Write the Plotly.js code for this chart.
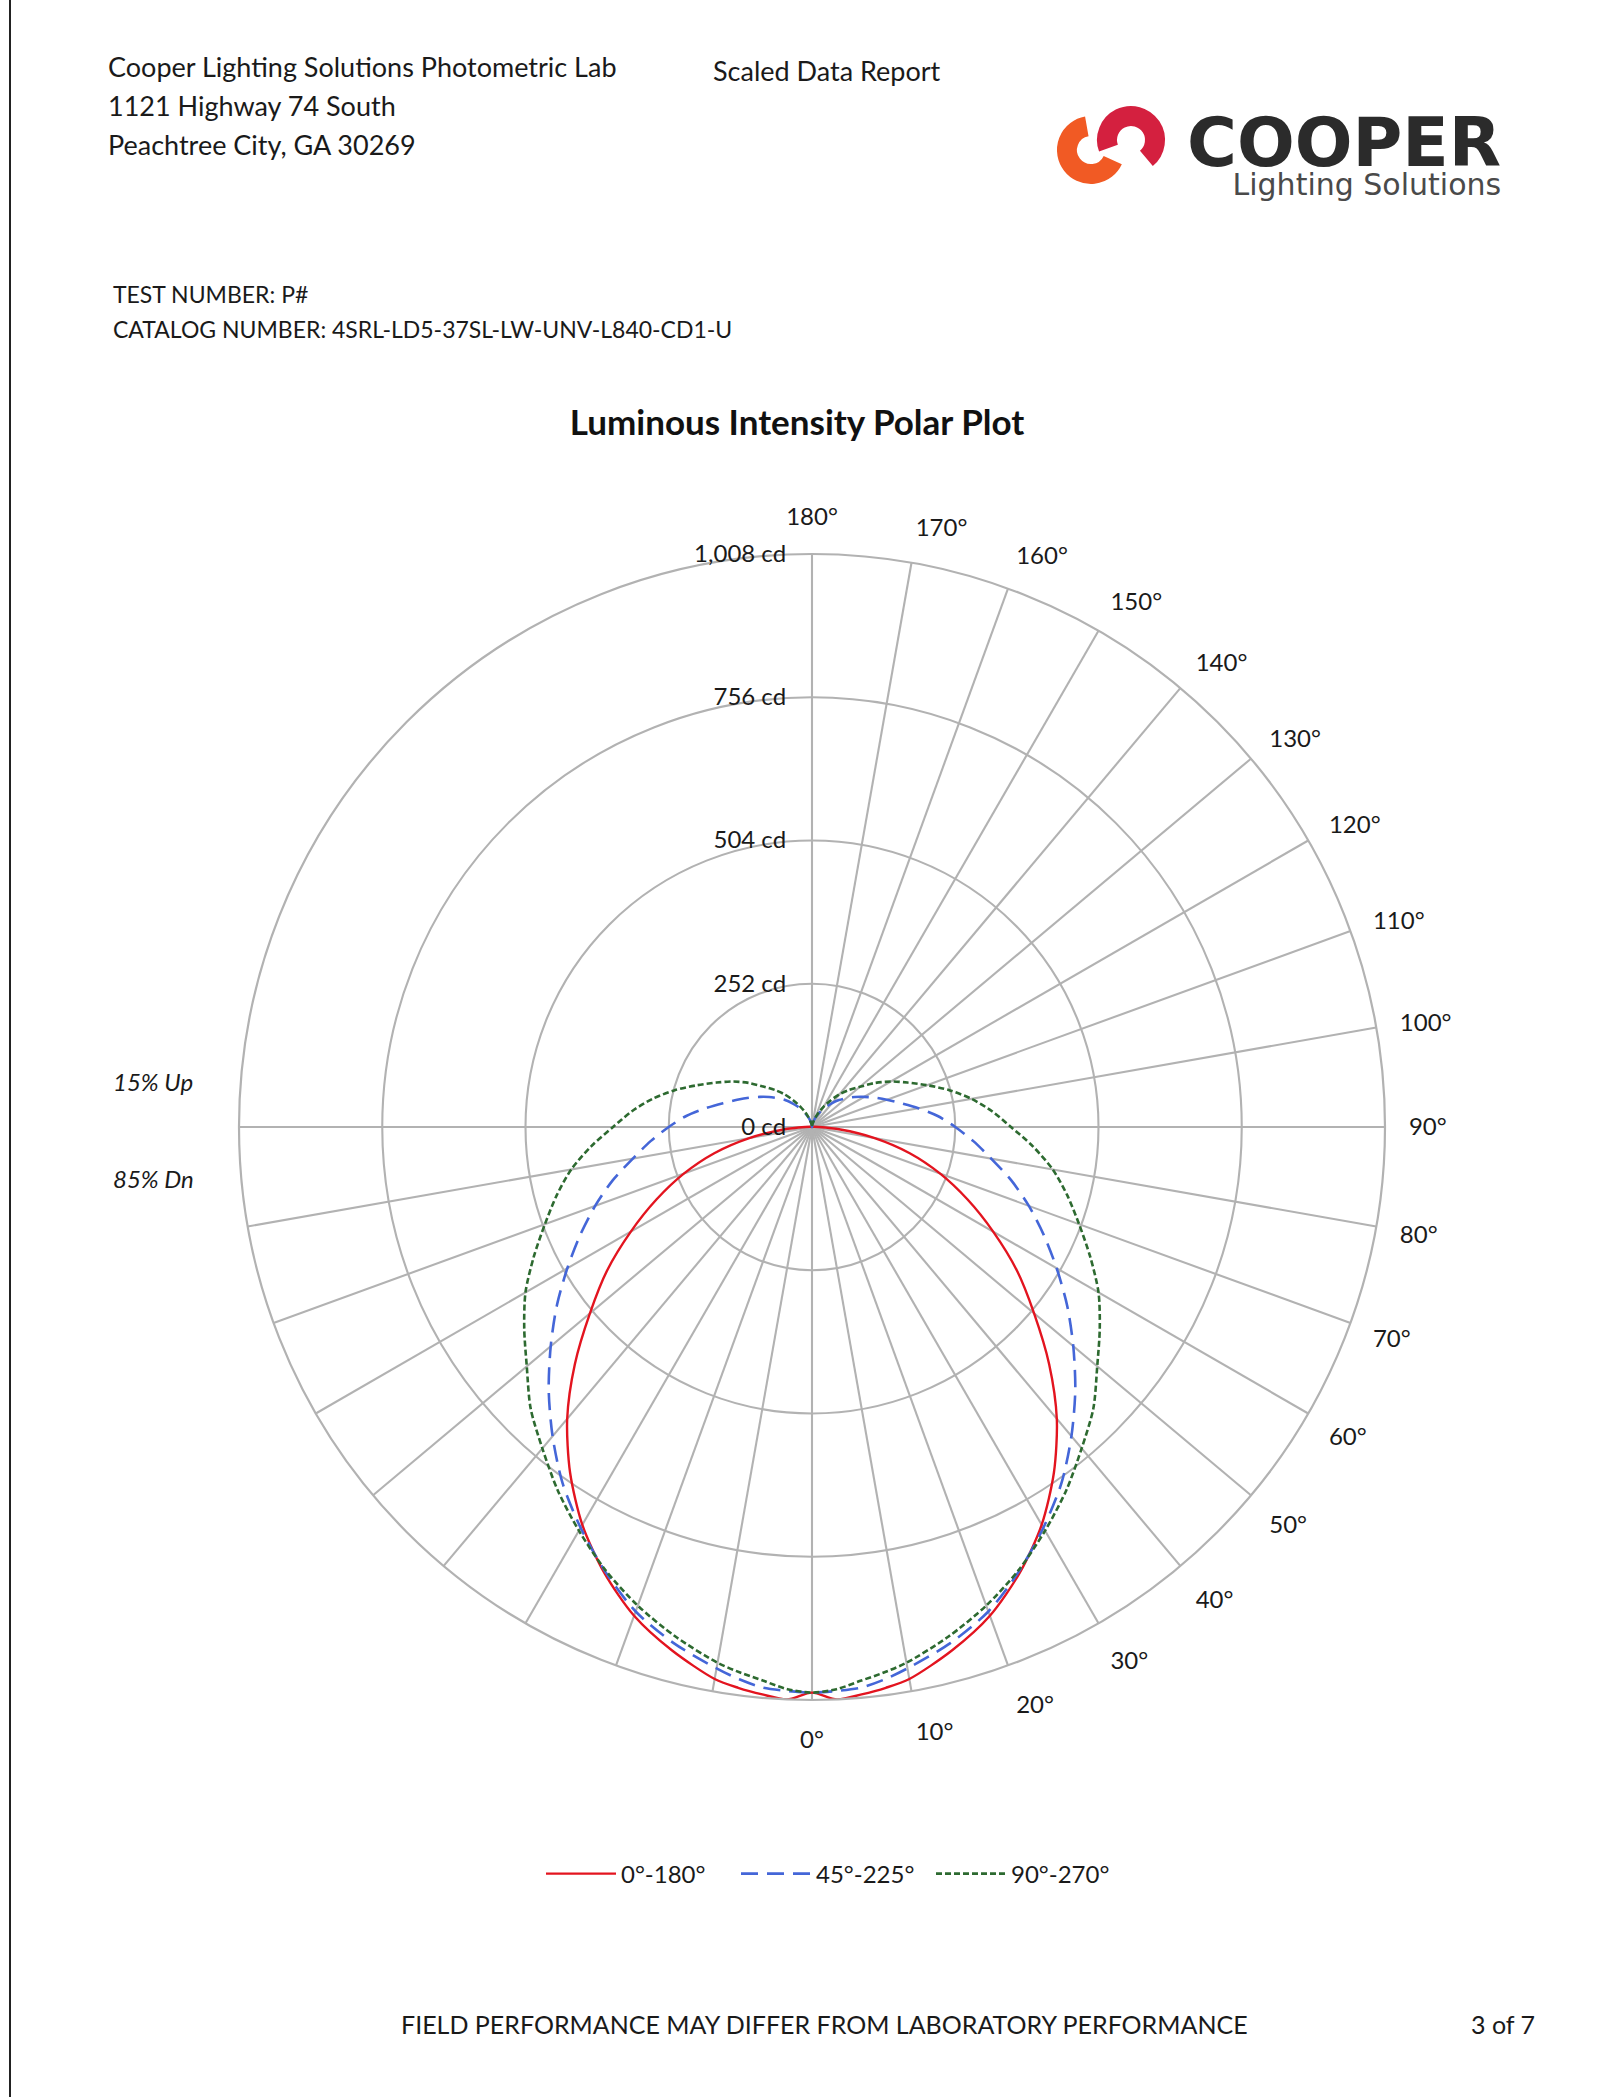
<!DOCTYPE html>
<html>
<head>
<meta charset="utf-8">
<script src="https://cdn.plot.ly/plotly-3.0.1.min.js"></script>
<style>
  html, body { margin: 0; padding: 0; background: #ffffff; }
  #chart { width: 1624px; height: 2097px; }
</style>
</head>
<body>
<div id="chart"></div>
<script>
// ---------------- DATA ----------------
// vertical angles (deg from nadir)
const vertAngles = [0, 2.5, 5, 7.5, 10, 15, 20, 25, 30, 35, 40, 45, 50, 55, 60, 65, 70, 75, 80, 85, 90,
                    95, 100, 105, 110, 115, 120, 125, 130, 135, 140, 145, 150, 155, 160, 165, 170, 175, 180];

// candela values, plane 0° and plane 180°
const red0   = [995, 1008, 1002, 995, 986, 953, 915, 865, 808, 742, 670, 590, 510, 440, 368, 302, 240, 178, 112, 50, 12,
                4, 2, 1, 1, 1, 1, 1, 1, 1, 1, 1, 1, 1, 1, 1, 1, 1, 0];
const red180 = [995, 1008, 1002, 995, 986, 953, 915, 865, 808, 742, 670, 590, 510, 440, 368, 302, 240, 178, 112, 50, 12,
                4, 2, 1, 1, 1, 1, 1, 1, 1, 1, 1, 1, 1, 1, 1, 1, 1, 0];
// plane 45° and plane 225°
const blue45  = [995, 993, 990, 980, 967, 940, 907, 862, 814, 765, 710, 655, 600, 548, 497, 450, 406, 363, 320, 285, 252,
                 222, 190, 162, 140, 122, 106, 92, 79, 67, 55, 44, 34, 25, 17, 10, 5, 2, 0];
const blue225 = [995, 993, 990, 980, 967, 940, 907, 862, 814, 765, 710, 655, 600, 548, 497, 450, 406, 363, 320, 285, 252,
                 222, 190, 162, 140, 122, 106, 92, 79, 67, 55, 44, 34, 25, 17, 10, 5, 2, 0];
// plane 90° and plane 270°
const green90  = [995, 990, 978, 968, 957, 928, 896, 860, 820, 780, 738, 700, 655, 618, 582, 540, 500, 465, 430, 390, 350,
                  318, 285, 250, 215, 185, 160, 135, 110, 92, 75, 57, 42, 29, 18, 10, 5, 2, 0];
const green270 = [995, 990, 978, 968, 957, 928, 896, 860, 820, 780, 738, 700, 655, 618, 582, 540, 500, 465, 430, 390, 350,
                  318, 285, 250, 215, 185, 160, 135, 110, 92, 75, 57, 42, 29, 18, 10, 5, 2, 0];

const seriesNames = ["0°-180°", "45°-225°", "90°-270°"];

// angular ticks: labelled 0..180 on right half, unlabelled spokes on lower-left half
const labelledAngles = [0, 10, 20, 30, 40, 50, 60, 70, 80, 90, 100, 110, 120, 130, 140, 150, 160, 170, 180];
const unlabelledAngles = [270, 280, 290, 300, 310, 320, 330, 340, 350];

const radialTicks = [0, 252, 504, 756, 1008];
const radialTickText = ["0 cd", "252 cd", "504 cd", "756 cd", "1,008 cd"];

// ---------------- BUILD ----------------
function buildCurve(rightPlane, leftPlane) {
  const theta = [], r = [];
  for (let i = vertAngles.length - 1; i >= 0; i--) { theta.push(vertAngles[i]); r.push(rightPlane[i]); }
  for (let i = 1; i < vertAngles.length; i++) { theta.push(360 - vertAngles[i]); r.push(leftPlane[i]); }
  return { theta, r };
}

const FONT = "Lato, 'Open Sans', 'Liberation Sans', sans-serif";
const GRID = "#b2b2b2";

const c1 = buildCurve(red0, red180);
const c2 = buildCurve(blue45, blue225);
const c3 = buildCurve(green90, green270);

const traces = [
  { type: "scatterpolar", mode: "lines", name: seriesNames[0], theta: c1.theta, r: c1.r,
    line: { color: "#e3141f", width: 2.4, shape: "spline", smoothing: 0.8 } },
  { type: "scatterpolar", mode: "lines", name: seriesNames[1], theta: c2.theta, r: c2.r,
    line: { color: "#4466d8", width: 2.6, dash: "17px,9px", shape: "spline", smoothing: 0.8 } },
  { type: "scatterpolar", mode: "lines", name: seriesNames[2], theta: c3.theta, r: c3.r,
    line: { color: "#2d6a30", width: 2.6, dash: "6px,3px", shape: "spline", smoothing: 0.8 } }
];

const W = 1624, H = 2097;
const px = x => x / W;
const py = y => 1 - y / H;

const tickvals = labelledAngles.concat(unlabelledAngles);
const ticktext = labelledAngles.map(a => a + "°").concat(unlabelledAngles.map(() => ""));

// logo ring mark (decorative)
const logoSvg = '<svg xmlns="http://www.w3.org/2000/svg" width="125" height="90" viewBox="0 0 125 90">' +
  '<path d="M36.8,26.4 A24,24 0 1 0 62.75,60.1" fill="none" stroke="#f15a24" stroke-width="20"/>' +
  '<path d="M58.45,48.2 A24,24 0 1 1 96.4,58.4" fill="none" stroke="#d4203f" stroke-width="20"/>' +
  '</svg>';
const logoUri = "data:image/svg+xml;base64," + btoa(logoSvg);

function note(text, x, y, size, opts) {
  return Object.assign({
    text: text, x: px(x), y: py(y), xref: "paper", yref: "paper",
    xanchor: "left", yanchor: "middle", showarrow: false,
    font: { family: FONT, size: size, color: "#1a1a1a" }
  }, opts || {});
}

const layout = {
  width: W, height: H,
  margin: { l: 0, r: 0, t: 0, b: 0 },
  paper_bgcolor: "#ffffff",
  font: { family: FONT, size: 24, color: "#1a1a1a" },
  title: {
    text: "Luminous Intensity Polar Plot",
    x: px(797), y: py(423), xanchor: "center", yanchor: "middle",
    font: { family: FONT, size: 35, weight: 700, color: "#111111" }
  },
  showlegend: true,
  legend: {
    orientation: "h", x: px(541), y: py(1874), xanchor: "left", yanchor: "middle",
    font: { family: FONT, size: 24, color: "#1a1a1a" },
    itemwidth: 70, entrywidth: 110, entrywidthmode: "pixels", bgcolor: "rgba(0,0,0,0)"
  },
  polar: {
    domain: { x: [px(239), px(1385)], y: [py(1700), py(554)] },
    bgcolor: "#ffffff",
    angularaxis: {
      rotation: -90, direction: "counterclockwise",
      tickmode: "array", tickvals: tickvals, ticktext: ticktext,
      showline: true, linecolor: GRID, linewidth: 2.2,
      showgrid: true, gridcolor: GRID, gridwidth: 2.1,
      ticks: "outside", ticklen: 18, tickcolor: "rgba(0,0,0,0)",
      tickfont: { family: FONT, size: 24, color: "#1a1a1a" }
    },
    radialaxis: {
      range: [0, 1008], tickmode: "array", tickvals: radialTicks, ticktext: radialTickText,
      angle: 90, side: "counterclockwise", tickangle: 90,
      showline: false, showgrid: true, gridcolor: GRID, gridwidth: 2.1,
      ticks: "outside", ticklen: 17, tickcolor: "rgba(0,0,0,0)",
      tickfont: { family: FONT, size: 24, color: "#1a1a1a" }
    }
  },
  shapes: [
    { type: "line", xref: "paper", yref: "paper", x0: px(10), x1: px(10), y0: 0, y1: 1,
      line: { color: "#222222", width: 2 } }
  ],
  images: [
    { source: logoUri, xref: "paper", yref: "paper", x: px(1050), y: py(100),
      sizex: 125 / W, sizey: 90 / H, xanchor: "left", yanchor: "top", sizing: "stretch", layer: "above" }
  ],
  annotations: [
    note("Cooper Lighting Solutions Photometric Lab", 106, 67, 27),
    note("1121 Highway 74 South", 106, 106, 27),
    note("Peachtree City, GA 30269", 106, 144, 27),
    note("Scaled Data Report", 711, 70, 27),
    note("TEST NUMBER: P#", 111, 294, 23),
    note("CATALOG NUMBER: 4SRL-LD5-37SL-LW-UNV-L840-CD1-U", 111, 329, 23),
    note("<i>15% Up</i>", 111, 1081, 24),
    note("<i>85% Dn</i>", 111, 1178, 24),
    note("FIELD PERFORMANCE MAY DIFFER FROM LABORATORY PERFORMANCE", 399, 2024, 25),
    note("3 of 7", 1469, 2024, 25),
    note('<span style="font-size:68px;font-weight:bold;fill:#2b2b2b">COOPER</span><br>' +
         '<span style="font-size:30px;fill:#4a4a4a">Lighting Solutions</span>',
         1503, 152, 22,
         { xanchor: "right", align: "right",
           font: { family: "'DejaVu Sans', sans-serif", size: 22, color: "#2b2b2b" } })
  ]
};

Plotly.newPlot("chart", traces, layout, { staticPlot: true, displayModeBar: false });
</script>
</body>
</html>
